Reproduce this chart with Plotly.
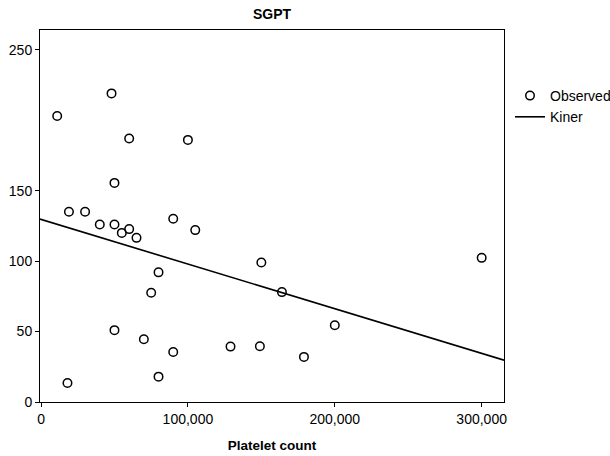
import plotly.graph_objects as go

platelet = [48000, 11000, 60000, 100000, 50000, 19000, 30000, 40000, 50000, 60000,
            55000, 65000, 90000, 105000, 80000, 75000, 50000, 70000, 90000, 80000,
            18000, 150000, 164000, 200000, 129000, 149000, 179000, 300000]
sgpt = [219, 203, 187, 186, 155.5, 135, 135, 126, 126, 122.7,
        120, 116.5, 130, 122, 92, 77.5, 51, 44.5, 35.5, 18,
        13.5, 99, 78, 54.5, 39.3, 39.6, 32, 102.3]

intercept = 129.6
slope = -0.000317
x_range = [-700, 315200]
y_range = [0, 264]
y_ticks = [0, 50, 100, 150, 250]
x_ticks = [0, 100000, 200000, 300000]
x_ticklabels = ["0", "100,000", "200,000", "300,000"]

FONT = "Liberation Sans Narrow, Arial Narrow, Liberation Sans, Arial, sans-serif"

fig = go.Figure()
fig.add_trace(go.Scatter(
    x=platelet, y=sgpt, mode="markers", name="Observed",
    marker=dict(symbol="circle-open", size=8.5, color="black", line=dict(width=1.5)),
))
line_x = x_range
line_y = [intercept + slope * v for v in line_x]
fig.add_trace(go.Scatter(
    x=line_x, y=line_y, mode="lines", name="Kiner",
    line=dict(color="black", width=1.6),
))

fig.update_layout(
    width=610, height=456,
    margin=dict(l=40, r=106, t=30, b=54, autoexpand=False),
    paper_bgcolor="white", plot_bgcolor="white",
    font=dict(family=FONT, size=14, color="black"),
    title=dict(text="<b>SGPT</b>", x=0.5, xref="paper", xanchor="center",
               y=1 - 14 / 456, yref="container", yanchor="middle",
               font=dict(family=FONT, size=14, color="black")),
    showlegend=True,
    legend=dict(x=(510 - 40) / 464, xanchor="left", y=(402 - 80) / 372, yanchor="top",
                font=dict(family=FONT, size=14, color="black"),
                bgcolor="rgba(0,0,0,0)", tracegroupgap=0, itemwidth=30),
    xaxis=dict(range=x_range, tickvals=x_ticks, ticktext=x_ticklabels,
               showgrid=False, zeroline=False, showline=True, mirror=True,
               linecolor="black", linewidth=1, ticks="outside", ticklen=4,
               tickcolor="black", tickfont=dict(size=14), automargin=False,
               title=dict(text="<b>Platelet count</b>", standoff=14,
                          font=dict(family=FONT, size=13.5))),
    yaxis=dict(range=y_range, tickvals=y_ticks, showgrid=False, zeroline=False,
               showline=True, mirror=True, linecolor="black", linewidth=1,
               ticks="outside", ticklen=4, tickcolor="black", tickfont=dict(size=14),
               automargin=False),
)

fig.write_html("out.html", config={"displayModeBar": False},
               post_script="document.body.style.margin='0';document.body.style.padding='0';")
